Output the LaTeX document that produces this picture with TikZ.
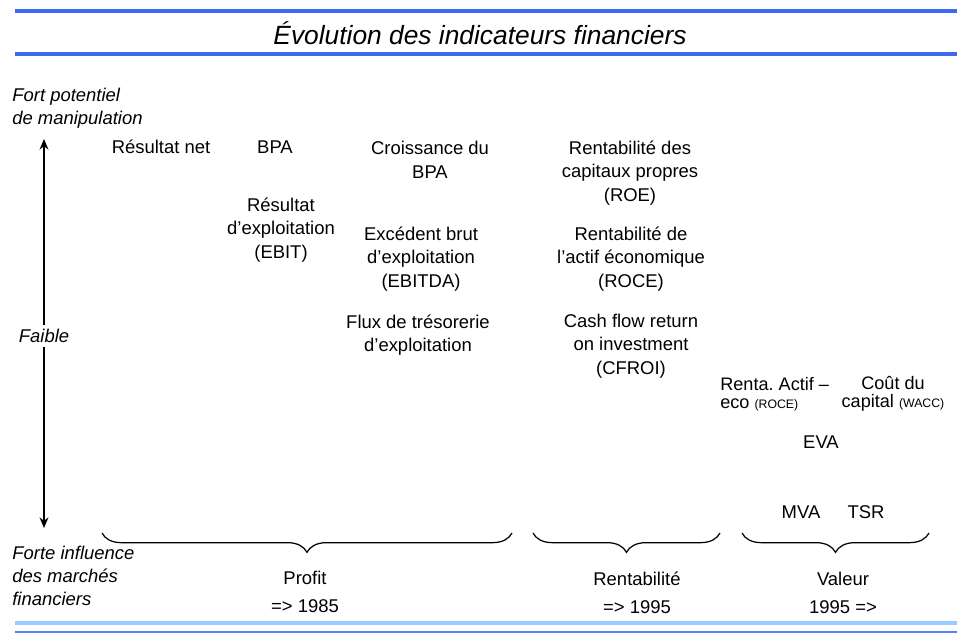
\documentclass[tikz,border=0pt]{standalone}
\usepackage{fontspec}
\setmainfont{Liberation Sans}
\usetikzlibrary{arrows.meta,decorations.pathreplacing}
\definecolor{barblue}{RGB}{61,105,240}
\definecolor{palblue}{RGB}{153,204,255}
\definecolor{finblue}{RGB}{90,130,245}
\tikzset{
  txt/.style={font=\fontsize{10.5}{13.4}\selectfont, align=center, inner sep=0pt},
  axetxt/.style={font=\fontsize{10.5}{13.2}\selectfont\itshape, align=left, inner sep=0pt, anchor=west},
  serre/.style={font=\fontsize{10.3}{10.4}\selectfont, inner sep=0pt},
  barre/.style={draw=barblue, line width=2.2pt},
  accolade/.style={decorate, decoration={brace, mirror, amplitude=11pt}, line width=0.7pt},
  fleche/.style={-{Stealth[length=6pt,width=5pt]}, line width=1.3pt},
}
\newcommand{\sigle}[1]{{\fontsize{7}{8}\selectfont #1}}

\begin{document}
\begin{tikzpicture}[x=0.02cm,y=-0.02cm]
\useasboundingbox[fill=white] (0,0) rectangle (964,633);

\draw[barre] (15,11) -- (957,11);
\draw[barre] (15,54) -- (957,54);
\node[font=\fontsize{15}{18}\selectfont\itshape, inner sep=0pt] (titre) at (480,33) {Évolution des indicateurs financiers};

\node[axetxt] (fortpot) at (12,108) {Fort potentiel\\de manipulation};
\node[axetxt] (forteinf) at (12,576) {Forte influence\\des marchés\\financiers};
\coordinate (haut) at (44,139);
\coordinate (bas) at (44,528);
\node[axetxt, anchor=center, fill=white, inner sep=2pt] (faible) at (44,336) {Faible};
\draw[fleche] (faible) -- (haut);
\draw[fleche] (faible) -- (bas);

\node[txt] (resnet) at (161,147) {Résultat net};
\node[txt] (bpa) at (275,147) {BPA};
\node[txt] (ebit) at (281,230) {Résultat\\d'exploitation\\(EBIT)};
\node[txt] (croiss) at (430,160) {Croissance du\\BPA};
\node[txt] (ebitda) at (421,259) {Excédent brut\\d'exploitation\\(EBITDA)};
\node[txt] (flux) at (418,335) {Flux de trésorerie\\d'exploitation};

\node[txt] (roe) at (630,173) {Rentabilité des\\capitaux propres\\(ROE)};
\node[txt] (roce) at (631,259) {Rentabilité de\\l'actif économique\\(ROCE)};
\node[txt] (cfroi) at (631,346) {Cash flow return\\on investment\\(CFROI)};

\node[serre, align=left, anchor=west] (renta) at (720,394) {Renta.\ Actif –\\eco \sigle{(ROCE)}};
\node[serre, align=center] (cout) at (893,394) {Coût du\\capital \sigle{(WACC)}};
\node[txt] (eva) at (821,442) {EVA};
\node[txt] (mva) at (801,512) {MVA};
\node[txt] (tsr) at (866,512) {TSR};

\coordinate (a1) at (102,533);
\coordinate (b1) at (512,533);
\coordinate (a2) at (533,533);
\coordinate (b2) at (720,533);
\coordinate (a3) at (742,533);
\coordinate (b3) at (929,533);
\draw[accolade] (a1) -- (b1);
\draw[accolade] (a2) -- (b2);
\draw[accolade] (a3) -- (b3);

\node[txt] (profit) at (305,592) {Profit\\[2.5pt]=> 1985};
\node[txt] (rentab) at (637,593) {Rentabilité\\[2.5pt]=> 1995};
\node[txt] (valeur) at (843,593) {Valeur\\[2.5pt]1995 =>};

\draw[draw=palblue, line width=2.2pt] (15,623) -- (957,623);
\draw[draw=finblue, line width=0.9pt] (15,632) -- (957,632);
\end{tikzpicture}
\end{document}
